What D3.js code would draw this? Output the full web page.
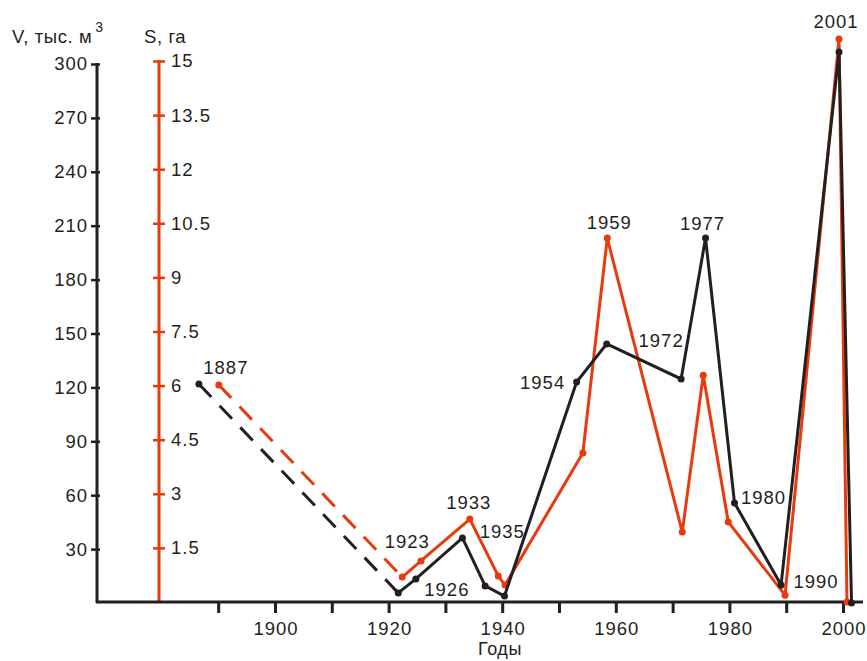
<!DOCTYPE html>
<meta charset="utf-8">
<script src="https://cdn.jsdelivr.net/npm/d3@7"></script>
<style>
  body { margin: 0; background: #fff; }
  text { font-family: Arial, "Liberation Sans", sans-serif; fill: #231f20; }
</style>
<div id="my_dataviz"></div>
<script>

// V, тыс. м3 (black line)
var vYears  = [1886.6, 1921.7, 1924.8, 1933.0, 1937.0, 1940.4, 1953.1, 1958.4, 1971.5, 1975.8, 1980.9, 1989.1, 1999.3, 2001.5];
var vValues = [121.9, 5.6, 13.4, 36.2, 9.5, 3.9, 123.0, 144.2, 124.7, 203.1, 55.7, 10.0, 306.7, 0];

// S, га (orange line)
var sYears  = [1890.1, 1922.4, 1925.7, 1934.3, 1939.3, 1940.5, 1954.2, 1958.5, 1971.7, 1975.4, 1979.8, 1989.8, 1999.3, 2000.7];
var sValues = [6.02, 0.69, 1.14, 2.30, 0.72, 0.47, 4.13, 10.09, 1.94, 6.29, 2.22, 0.19, 15.61, 0];

// tick labels
var vTicks = [30, 60, 90, 120, 150, 180, 210, 240, 270, 300];
var sTicks = [1.5, 3, 4.5, 6, 7.5, 9, 10.5, 12, 13.5, 15];
var xTicks = [1890, 1900, 1910, 1920, 1930, 1940, 1950, 1960, 1970, 1980, 1990, 2000];

// year labels next to points: [text, series, point index]
var pointLabels = [
  ["1887", "v", 0], ["1923", "s", 1], ["1926", "v", 2], ["1933", "s", 3],
  ["1935", "s", 4], ["1954", "v", 6], ["1959", "s", 7], ["1972", "v", 8],
  ["1977", "v", 9], ["1980", "v", 10], ["1990", "v", 11], ["2001", "s", 12]
];

var black = "#231f20", orange = "#e83a0c";

var svg = d3.select("#my_dataviz")
  .append("svg")
    .attr("width", 867)
    .attr("height", 661);

var x = d3.scaleLinear().domain([1900, 2000]).range([275, 843]);
var yV = d3.scaleLinear().domain([0, 300]).range([603, 64]);
var yS = d3.scaleLinear().domain([0, 15]).range([602, 61]);

var fs = "18.5px", ls = "1px";

// ---- left black axis (V)
var axV = svg.append("g")
    .attr("transform", "translate(97,0)")
    .call(d3.axisLeft(yV).tickValues(vTicks).tickSize(6).tickPadding(3));
axV.select(".domain").remove();
axV.selectAll(".tick line").attr("x1", -6).attr("x2", 3).attr("stroke", black).attr("stroke-width", 2.5);
axV.selectAll(".tick text").style("font-size", fs).style("letter-spacing", ls).attr("fill", black);
svg.append("line")
    .attr("x1", 97).attr("x2", 97)
    .attr("y1", yV(300) - 1).attr("y2", 603)
    .attr("stroke", black).attr("stroke-width", 3);

// ---- orange axis (S)
var axS = svg.append("g")
    .attr("transform", "translate(159,0)")
    .call(d3.axisRight(yS).tickValues(sTicks).tickSize(6).tickPadding(6).tickFormat(function(d) { return d; }));
axS.select(".domain").remove();
axS.selectAll(".tick line").attr("x1", -6).attr("x2", 6).attr("stroke", orange).attr("stroke-width", 2.5);
axS.selectAll(".tick text").style("font-size", fs).style("letter-spacing", ls).attr("fill", black);
svg.append("line")
    .attr("x1", 159).attr("x2", 159)
    .attr("y1", yS(15) - 1).attr("y2", 603)
    .attr("stroke", orange).attr("stroke-width", 3);

// ---- bottom axis (years)
var axX = svg.append("g")
    .attr("transform", "translate(0,603)")
    .call(d3.axisBottom(x).tickValues(xTicks).tickSize(10).tickPadding(9)
      .tickFormat(function(d) { return d % 20 === 0 ? d : ""; }));
axX.select(".domain").remove();
axX.selectAll(".tick line").attr("stroke", black).attr("stroke-width", 3);
axX.selectAll(".tick text").style("font-size", fs).style("letter-spacing", ls).attr("dx", "0.5px").attr("fill", black);
svg.append("line")
    .attr("x1", 96).attr("x2", 863)
    .attr("y1", 602).attr("y2", 602)
    .attr("stroke", black).attr("stroke-width", 3);

// axis titles
var vt = svg.append("text").attr("x", 12).attr("y", 43).style("font-size", "18.5px").style("letter-spacing", "0.6px");
vt.append("tspan").text("V, тыс. м");
vt.append("tspan").attr("dx", 3).attr("dy", -11).style("font-size", "14px").text("3");
svg.append("text").attr("x", 144).attr("y", 43).style("font-size", "18.5px").style("letter-spacing", "0.6px").text("S, га");
svg.append("text").attr("x", 500).attr("y", 655).attr("text-anchor", "middle")
    .style("font-size", "18px").style("letter-spacing", "0.6px").text("Годы");

// ---- series
function drawSeries(years, values, yScale, color, r) {
  var pts = years.map(function(d, i) { return [x(d), yScale(values[i])]; });
  var line = d3.line();
  // first segment dashed
  svg.append("path")
      .attr("d", line(pts.slice(0, 2)))
      .attr("fill", "none").attr("stroke", color).attr("stroke-width", 3)
      .attr("stroke-dasharray", "18,12");
  svg.append("path")
      .attr("d", line(pts.slice(1)))
      .attr("fill", "none").attr("stroke", color).attr("stroke-width", 3)
      .attr("stroke-linejoin", "miter");
  svg.selectAll(null)
    .data(pts)
    .enter()
    .append("circle")
      .attr("cx", function(d) { return d[0]; })
      .attr("cy", function(d) { return d[1]; })
      .attr("r", r)
      .attr("fill", color);
  return pts;
}

var sPts = drawSeries(sYears, sValues, yS, orange, 3.5);
var vPts = drawSeries(vYears, vValues, yV, black, 3.5);

// offsets of the year labels from their points
var labelOffsets = {
  "1887": [27, -16], "1923": [5, -36], "1926": [31, 11], "1933": [-1, -17],
  "1935": [4, -45], "1954": [-34, 0], "1959": [2, -16], "1972": [-20, -38],
  "1977": [-3, -15], "1980": [29, -5], "1990": [35, -4], "2001": [-3, -17]
};

pointLabels.forEach(function(l) {
  var p = (l[1] === "v" ? vPts : sPts)[l[2]];
  var o = labelOffsets[l[0]];
  svg.append("text")
      .attr("x", p[0] + o[0])
      .attr("y", p[1] + o[1])
      .attr("text-anchor", "middle")
      .attr("dominant-baseline", "central")
      .style("font-size", fs)
      .style("letter-spacing", ls)
      .text(l[0]);
});

</script>
